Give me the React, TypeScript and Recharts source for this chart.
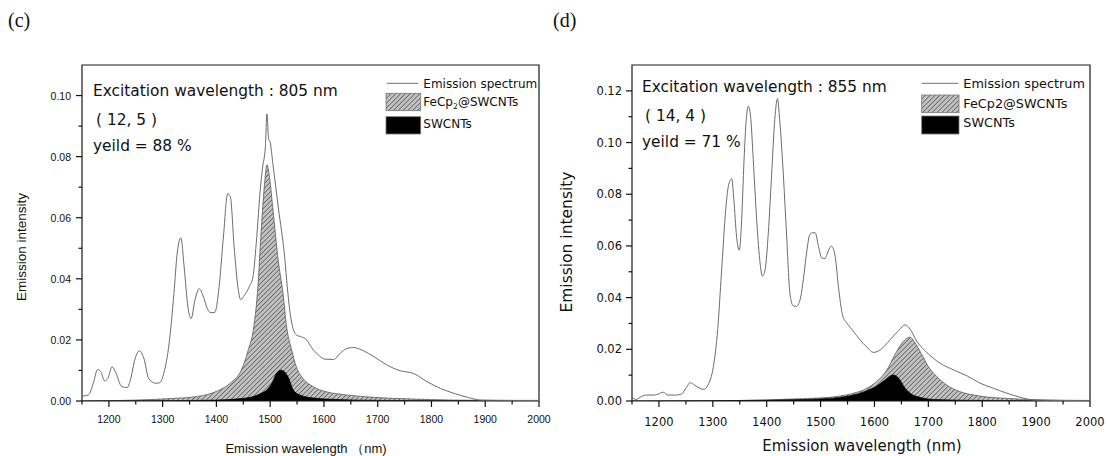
import React from 'react'
import { ComposedChart, Area, Line, XAxis, YAxis, ReferenceArea, Legend } from 'recharts'

type Pt = [number, number]

// (c) excitation 805 nm
const emissionC: Pt[] = [
  [1150, 0.0016], [1162, 0.002], [1171, 0.0058], [1179, 0.0103], [1185, 0.0096], [1192, 0.0066],
  [1198, 0.0074], [1206, 0.0112], [1212, 0.0096], [1224, 0.0047], [1234, 0.0044], [1240, 0.0069],
  [1249, 0.014], [1257, 0.0164], [1265, 0.014], [1274, 0.0074], [1287, 0.0058], [1295, 0.006],
  [1302, 0.009], [1312, 0.0188], [1321, 0.0352], [1327, 0.0483], [1334, 0.0534], [1340, 0.0439],
  [1347, 0.0308], [1353, 0.027], [1360, 0.033], [1368, 0.0368], [1377, 0.0335], [1383, 0.0303],
  [1390, 0.0289], [1397, 0.029], [1405, 0.0374], [1413, 0.0537], [1421, 0.0679], [1426, 0.0668],
  [1433, 0.0504], [1440, 0.0374], [1445, 0.0332], [1452, 0.0346], [1461, 0.0374], [1468, 0.0406],
  [1474, 0.0515], [1482, 0.07], [1486, 0.0766], [1491, 0.0831], [1494, 0.094], [1497, 0.0858],
  [1500, 0.0847], [1505, 0.0777], [1515, 0.0635], [1527, 0.047], [1532, 0.037], [1539, 0.0265],
  [1549, 0.0216], [1558, 0.021], [1568, 0.02], [1577, 0.0175], [1590, 0.015], [1602, 0.0137],
  [1618, 0.0136], [1630, 0.0156], [1643, 0.0172], [1655, 0.0175], [1674, 0.0164], [1693, 0.0145],
  [1717, 0.0118], [1742, 0.0099], [1767, 0.009], [1792, 0.0063], [1817, 0.0041], [1842, 0.0025],
  [1867, 0.0012], [1892, 0.0003], [1950, 0.0002], [2000, 0.0002],
]
const fecpC: Pt[] = [
  [1150, 0], [1250, 0.0003], [1315, 0.0008], [1365, 0.0015], [1402, 0.0033], [1427, 0.006],
  [1446, 0.01], [1458, 0.016], [1470, 0.025], [1477, 0.037], [1483, 0.055], [1490, 0.072],
  [1494, 0.0773], [1499, 0.073], [1505, 0.063], [1515, 0.046], [1524, 0.035], [1530, 0.025],
  [1540, 0.0167], [1549, 0.011], [1561, 0.0074], [1580, 0.0047], [1605, 0.003], [1642, 0.002],
  [1692, 0.0012], [1755, 0.0007], [1842, 0.0003], [2000, 0.0001],
]
const swcntC: Pt[] = [
  [1150, 0], [1300, 0.0001], [1400, 0.0003], [1440, 0.0007], [1465, 0.0013], [1483, 0.0025],
  [1496, 0.004], [1505, 0.0065], [1511, 0.0088], [1520, 0.0101], [1527, 0.0095], [1533, 0.008],
  [1543, 0.0036], [1555, 0.002], [1580, 0.001], [1624, 0.0005], [1700, 0.0002], [1800, 0.0001], [2000, 0],
]

// (d) excitation 855 nm
const emissionD: Pt[] = [
  [1150, 0.0014], [1158, 0.0006], [1167, 0.0017], [1177, 0.0023], [1189, 0.0023], [1198, 0.0026],
  [1208, 0.0034], [1217, 0.0023], [1232, 0.0023], [1242, 0.0027], [1251, 0.0052], [1258, 0.0071],
  [1266, 0.0062], [1276, 0.0049], [1283, 0.0045], [1291, 0.0062], [1301, 0.0133], [1309, 0.0276],
  [1316, 0.0495], [1324, 0.0741], [1329, 0.0832], [1335, 0.086], [1339, 0.078], [1344, 0.0638],
  [1349, 0.0583], [1353, 0.0677], [1358, 0.0935], [1362, 0.109], [1366, 0.114], [1370, 0.1103],
  [1375, 0.0935], [1381, 0.0715], [1387, 0.0547], [1392, 0.0483], [1397, 0.0508], [1403, 0.0651],
  [1409, 0.0871], [1415, 0.109], [1420, 0.117], [1424, 0.109], [1431, 0.0871], [1437, 0.0638],
  [1443, 0.0418], [1449, 0.0369], [1455, 0.0366], [1462, 0.0392], [1468, 0.047], [1474, 0.0573],
  [1480, 0.0644], [1485, 0.0651], [1490, 0.0651], [1496, 0.0599], [1502, 0.0554], [1508, 0.0551],
  [1514, 0.058], [1520, 0.0599], [1527, 0.056], [1533, 0.0444], [1541, 0.033], [1549, 0.0301],
  [1561, 0.0269], [1573, 0.0237], [1586, 0.0208], [1598, 0.0188], [1611, 0.0198], [1629, 0.0237],
  [1645, 0.0273], [1657, 0.0295], [1666, 0.0278], [1679, 0.023], [1697, 0.0188], [1722, 0.0146],
  [1747, 0.012], [1772, 0.0097], [1796, 0.0069], [1821, 0.0049], [1846, 0.003], [1871, 0.0014],
  [1896, 0.0004], [1950, 0.0002], [2000, 0.0001],
]
const fecpD: Pt[] = [
  [1150, 0], [1300, 0.0001], [1400, 0.0004], [1450, 0.0008], [1500, 0.0012], [1536, 0.0019],
  [1561, 0.003], [1586, 0.0049], [1604, 0.0075], [1623, 0.012], [1638, 0.0179], [1651, 0.0224],
  [1660, 0.0243], [1666, 0.0247], [1675, 0.0226], [1688, 0.0179], [1700, 0.0133], [1716, 0.0094],
  [1734, 0.0062], [1759, 0.0036], [1796, 0.0019], [1846, 0.001], [1883, 0.0006], [1950, 0.0003], [2000, 0.0002],
]
const swcntD: Pt[] = [
  [1150, 0], [1300, 0.0001], [1400, 0.0003], [1450, 0.0005], [1500, 0.0008], [1536, 0.0014],
  [1561, 0.0023], [1586, 0.004], [1604, 0.0058], [1620, 0.0082], [1629, 0.0097], [1635, 0.0101],
  [1645, 0.0088], [1657, 0.0049], [1669, 0.0026], [1685, 0.0014], [1710, 0.0006], [1800, 0.0002], [2000, 0],
]

const xTicks = [1150, 1200, 1250, 1300, 1350, 1400, 1450, 1500, 1550, 1600, 1650, 1700, 1750, 1800, 1850, 1900, 1950, 2000]
const yTicksC = [0, 0.01, 0.02, 0.03, 0.04, 0.05, 0.06, 0.07, 0.08, 0.09, 0.1]
const yTicksD = [0, 0.01, 0.02, 0.03, 0.04, 0.05, 0.06, 0.07, 0.08, 0.09, 0.1, 0.11, 0.12]

const seriesNames = { emission: 'Emission spectrum', fecp: 'FeCp2@SWCNTs', swcnt: 'SWCNTs' }
const notesC = ['Excitation wavelength : 805 nm', '( 12, 5 )', 'yeild = 88 %']
const notesD = ['Excitation wavelength : 855 nm', '( 14, 4 )', 'yeild = 71 %']

const ARIAL = '"Liberation Sans", Arial, sans-serif'
const WIDE = '"DejaVu Sans", sans-serif'
const SERIF = '"Liberation Serif", "Times New Roman", serif'

function mergeSeries(em: Pt[], fe: Pt[], sw: Pt[]) {
  const rows = new Map<number, any>()
  const put = (arr: Pt[], key: string) =>
    arr.forEach(([x, v]) => {
      const r = rows.get(x) ?? { wl: x }
      r[key] = v
      rows.set(x, r)
    })
  put(em, 'emission')
  put(fe, 'fecp')
  put(sw, 'swcnt')
  return [...rows.values()].sort((a, b) => a.wl - b.wl)
}

// plot box: x 82 -> width-right, y 65 -> 401 in each panel
const panels = [
  {
    id: 'c',
    left: 0,
    width: 560,
    margin: { top: 65, right: 21, bottom: 15, left: 32 },
    yMax: 0.11,
    yTicks: yTicksC,
    data: mergeSeries(emissionC, fecpC, swcntC),
    notes: notesC,
    tickFont: ARIAL,
    tickSize: 10.5,
    xLabelDy: 22,
    yLabelDx: 11,
    noteX: 93,
    noteY: [96, 125, 151],
    noteFs: 15.4,
    yTitle: { x: 21, y: 247, fs: 13.5, font: ARIAL },
    xTitle: { x: 306, y: 453, fs: 13, font: ARIAL, text: 'Emission wavelength （nm)' },
    legend: { left: 384, line: [2.7, 34.3, 7.3], textX: 39.3, base: [12, 30, 52], boxes: [[2, 17.3, 34.7, 17.4], [2, 40.7, 34.7, 17.3]], fs: 12, sub: true },
  },
  {
    id: 'd',
    left: 550,
    width: 557,
    margin: { top: 65, right: 17, bottom: 15, left: 32 },
    yMax: 0.13,
    yTicks: yTicksD,
    data: mergeSeries(emissionD, fecpD, swcntD),
    notes: notesD,
    tickFont: WIDE,
    tickSize: 11.5,
    xLabelDy: 25,
    yLabelDx: 10,
    noteX: 92,
    noteY: [92, 121, 147],
    noteFs: 15.4,
    yTitle: { x: 17, y: 242, fs: 15.5, font: WIDE },
    xTitle: { x: 312, y: 451, fs: 15, font: WIDE, text: 'Emission wavelength (nm)' },
    legend: { left: 370, line: [1.7, 38.3, 7.3], textX: 43.3, base: [12, 32, 51], boxes: [[1.7, 19, 37.3, 17.7], [1.7, 40, 37.3, 18]], fs: 12.8, sub: false },
  },
]

const order = ['emission', 'fecp', 'swcnt']

function Panel({ p }: { p: (typeof panels)[number] }) {
  const hatch = `hatch-${p.id}`
  const lg = p.legend

  const xTick = (props: any) => {
    const { x, y, payload } = props
    const major = payload.value % 100 === 0
    return (
      <g>
        <line x1={x} x2={x} y1={y} y2={y + (major ? 6 : 3.5)} stroke="#111" strokeWidth={1.2} />
        {major && (
          <text x={x} y={y + p.xLabelDy} textAnchor="middle" fontFamily={p.tickFont} fontSize={p.tickSize} fill="#111">
            {payload.value}
          </text>
        )}
      </g>
    )
  }
  const yTick = (props: any) => {
    const { x, y, payload } = props
    const major = Math.round(payload.value * 100) % 2 === 0
    return (
      <g>
        <line x1={x} x2={x - (major ? 6 : 3.5)} y1={y} y2={y} stroke="#111" strokeWidth={1.2} />
        {major && (
          <text x={x - p.yLabelDx} y={y} textAnchor="end" dominantBaseline="central" fontFamily={p.tickFont} fontSize={p.tickSize} fill="#111">
            {payload.value.toFixed(2)}
          </text>
        )}
      </g>
    )
  }

  const renderLegend = (props: any) => {
    const items = [...(props.payload ?? [])].sort((a: any, b: any) => order.indexOf(a.dataKey) - order.indexOf(b.dataKey))
    return (
      <svg width={185} height={62} style={{ display: 'block' }}>
        {items.map((it: any, i: number) => {
          const key = it.dataKey
          let swatch = null
          if (key === 'emission') {
            swatch = <line x1={lg.line[0]} x2={lg.line[1]} y1={lg.line[2]} y2={lg.line[2]} stroke="#707070" strokeWidth={1} />
          } else {
            const b = lg.boxes[key === 'fecp' ? 0 : 1]
            swatch = (
              <rect x={b[0]} y={b[1]} width={b[2]} height={b[3]} fill={key === 'fecp' ? `url(#${hatch})` : '#000'} stroke="#777" strokeWidth={0.8} />
            )
          }
          const label =
            key === 'fecp' && lg.sub ? (
              <>
                FeCp
                <tspan dy={3} fontSize={lg.fs * 0.65}>2</tspan>
                <tspan dy={-3}>@SWCNTs</tspan>
              </>
            ) : (
              it.value
            )
          return (
            <g key={key}>
              {swatch}
              <text x={lg.textX} y={lg.base[i]} fontFamily={WIDE} fontSize={lg.fs} fill="#111">
                {label}
              </text>
            </g>
          )
        })}
      </svg>
    )
  }

  return (
    <div style={{ position: 'absolute', left: p.left, top: 0 }}>
      <ComposedChart width={p.width} height={456} data={p.data} margin={p.margin}>
        <defs>
          <pattern id={hatch} patternUnits="userSpaceOnUse" width="3.4" height="3.4" patternTransform="rotate(45)">
            <rect width="3.4" height="3.4" fill="#c2c2c2" />
            <line x1="0" y1="0" x2="0" y2="3.4" stroke="#4a4a4a" strokeWidth="1.3" />
          </pattern>
        </defs>
        <XAxis
          dataKey="wl"
          type="number"
          domain={[1150, 2000]}
          allowDataOverflow
          ticks={xTicks}
          interval={0}
          height={40}
          tickSize={0}
          tickMargin={0}
          axisLine={false}
          tickLine={false}
          tick={xTick}
        />
        <YAxis
          type="number"
          domain={[0, p.yMax]}
          allowDataOverflow
          ticks={p.yTicks}
          interval={0}
          width={50}
          tickSize={0}
          tickMargin={0}
          axisLine={false}
          tickLine={false}
          tick={yTick}
        />
        <Area
          dataKey="fecp"
          name={seriesNames.fecp}
          type="monotone"
          fill={`url(#${hatch})`}
          fillOpacity={1}
          stroke="#4a4a4a"
          strokeWidth={0.7}
          connectNulls
          isAnimationActive={false}
        />
        <Area
          dataKey="swcnt"
          name={seriesNames.swcnt}
          type="monotone"
          fill="#000"
          fillOpacity={1}
          stroke="#000"
          strokeWidth={0.7}
          connectNulls
          isAnimationActive={false}
        />
        <Line
          dataKey="emission"
          name={seriesNames.emission}
          type="monotone"
          stroke="#6c6c6c"
          strokeWidth={1}
          dot={false}
          connectNulls
          isAnimationActive={false}
        />
        <ReferenceArea x1={1150} x2={2000} y1={0} y2={p.yMax} fill="none" stroke="#1a1a1a" strokeWidth={1.2} ifOverflow="visible" />
        <Legend
          layout="vertical"
          align="center"
          verticalAlign="middle"
          content={renderLegend}
          wrapperStyle={{ left: lg.left, top: 76, width: 185, height: 62 }}
        />
        <text x={p.id === 'c' ? 8 : 3} y={27} fontFamily={SERIF} fontSize={20} fill="#111">
          ({p.id})
        </text>
        {p.notes.map((t, i) => (
          <text key={t} x={p.noteX + (i === 1 ? 3 : 0)} y={p.noteY[i]} fontFamily={WIDE} fontSize={p.noteFs} fill="#111">
            {t}
          </text>
        ))}
        <text
          x={p.yTitle.x}
          y={p.yTitle.y}
          transform={`rotate(-90 ${p.yTitle.x} ${p.yTitle.y})`}
          textAnchor="middle"
          dominantBaseline="central"
          fontFamily={p.yTitle.font}
          fontSize={p.yTitle.fs}
          fill="#111"
        >
          Emission intensity
        </text>
        <text x={p.xTitle.x} y={p.xTitle.y} textAnchor="middle" fontFamily={p.xTitle.font} fontSize={p.xTitle.fs} fill="#111">
          {p.xTitle.text}
        </text>
      </ComposedChart>
    </div>
  )
}

export default function App() {
  return (
    <div style={{ position: 'absolute', left: 0, top: 0, width: 1107, height: 456, background: '#fff' }}>
      {panels.map((p) => (
        <Panel key={p.id} p={p} />
      ))}
    </div>
  )
}
